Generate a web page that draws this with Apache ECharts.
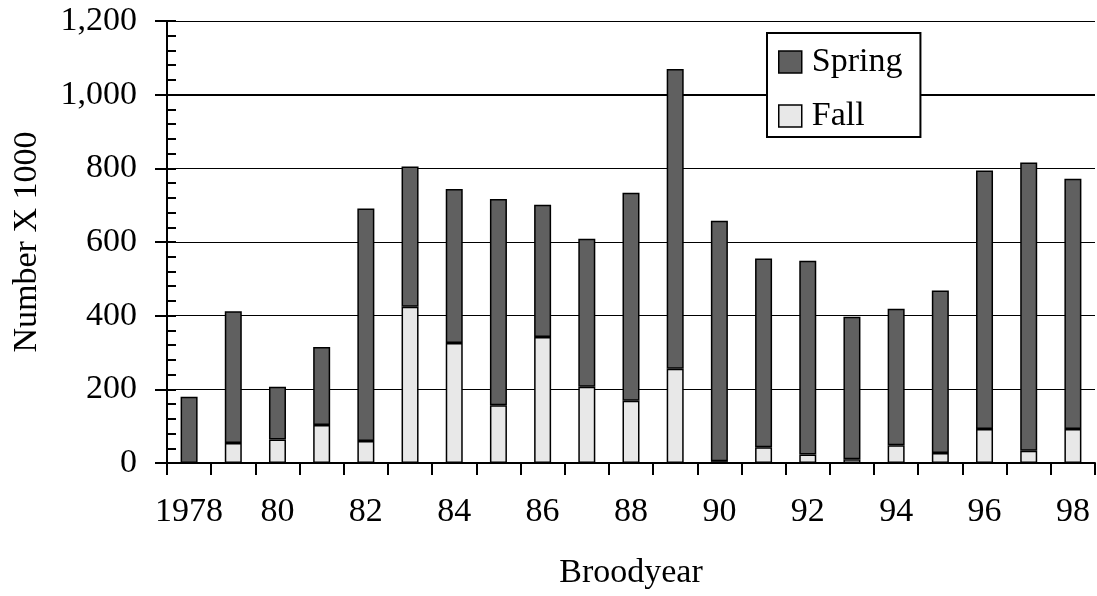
<!DOCTYPE html>
<html>
<head>
<meta charset="utf-8">
<script src="https://cdn.jsdelivr.net/npm/echarts@6/dist/echarts.min.js"></script>
<style>
html,body{margin:0;padding:0;background:#fff;}
#chart{width:1097px;height:596px;}
</style>
</head>
<body>
<div id="chart"></div>
<script>
const years = ['1978','79','80','81','82','83','84','85','86','87','88','89','90','91','92','93','94','95','96','97','98'];
const fallValues = [0,54,64,103,60,424,326,157,342,207,169,256,5,43,23,10,48,27,92,33,92];
const springValues = [180,358,143,212,631,381,418,560,359,402,565,814,653,512,526,387,371,441,702,783,680];
const seriesNames = ['Spring','Fall'];
const yTicks = [0,200,400,600,800,1000,1200];

const FONT = '"Liberation Serif", "Times New Roman", serif';
const FS = 34;

const chart = echarts.init(document.getElementById('chart'), null, {renderer:'canvas'});
// only the 1000 gridline is drawn heavier in the reference
const heavyColors = [];
for (let i = 0; i <= 30; i++) heavyColors.push(i === 25 ? '#000' : 'rgba(0,0,0,0)');

chart.setOption({
  animation:false,
  backgroundColor:'#fff',
  textStyle:{fontFamily:FONT,color:'#000'},
  grid:{left:167,right:2,top:21,bottom:133,containLabel:false},
  legend:{
    data:seriesNames,
    orient:'vertical',
    left:767, top:33,
    padding:[12,18,4,11],
    itemGap:20,
    itemWidth:23, itemHeight:22,
    icon:'rect',
    backgroundColor:'#fff',
    borderColor:'#000', borderWidth:2,
    itemStyle:{borderColor:'#000',borderWidth:1.5},
    textStyle:{fontFamily:FONT,fontSize:FS,color:'#000',padding:[0,0,0,5]},
    z:10
  },
  xAxis:{
    type:'category',
    data:years,
    boundaryGap:true,
    name:'Broodyear',
    nameLocation:'middle',
    nameGap:93,
    nameTextStyle:{fontFamily:FONT,fontSize:FS,color:'#000'},
    axisLine:{lineStyle:{color:'#000',width:2}},
    axisTick:{show:true,interval:0,length:12,alignWithLabel:false,lineStyle:{color:'#000',width:2}},
    axisLabel:{interval:1,margin:32,fontFamily:FONT,fontSize:FS,color:'#000'},
    splitLine:{show:false}
  },
  yAxis:[{
    type:'value',
    min:yTicks[0], max:yTicks[yTicks.length-1], interval:yTicks[1]-yTicks[0],
    name:'Number X 1000',
    nameLocation:'middle',
    nameGap:123,
    nameRotate:90,
    nameTextStyle:{fontFamily:FONT,fontSize:FS,color:'#000'},
    axisLine:{show:true,lineStyle:{color:'#000',width:2}},
    axisTick:{show:true,inside:false,length:12,lineStyle:{color:'#000',width:2}},
    axisLabel:{margin:30,fontFamily:FONT,fontSize:FS,color:'#000',
      formatter:v=>v.toLocaleString('en-US')},
    splitLine:{show:true,lineStyle:{color:'#000',width:1}}
  },{
    type:'value',
    position:'left',
    min:yTicks[0], max:yTicks[yTicks.length-1], interval:40,
    axisLine:{show:false},
    axisTick:{show:true,inside:true,length:9,lineStyle:{color:'#000',width:2}},
    axisLabel:{show:false},
    splitLine:{show:true,lineStyle:{color:heavyColors,width:2}}
  }],
  series:[{
    name:'Fall',
    type:'bar',
    stack:'total',
    data:fallValues,
    barWidth:17,
    itemStyle:{color:'#e8e8e8',borderColor:'#000',borderWidth:1.5}
  },{
    name:'Spring',
    type:'bar',
    stack:'total',
    data:springValues,
    barWidth:17,
    itemStyle:{color:'#606060',borderColor:'#000',borderWidth:1.5}
  }]
});
</script>
</body>
</html>
